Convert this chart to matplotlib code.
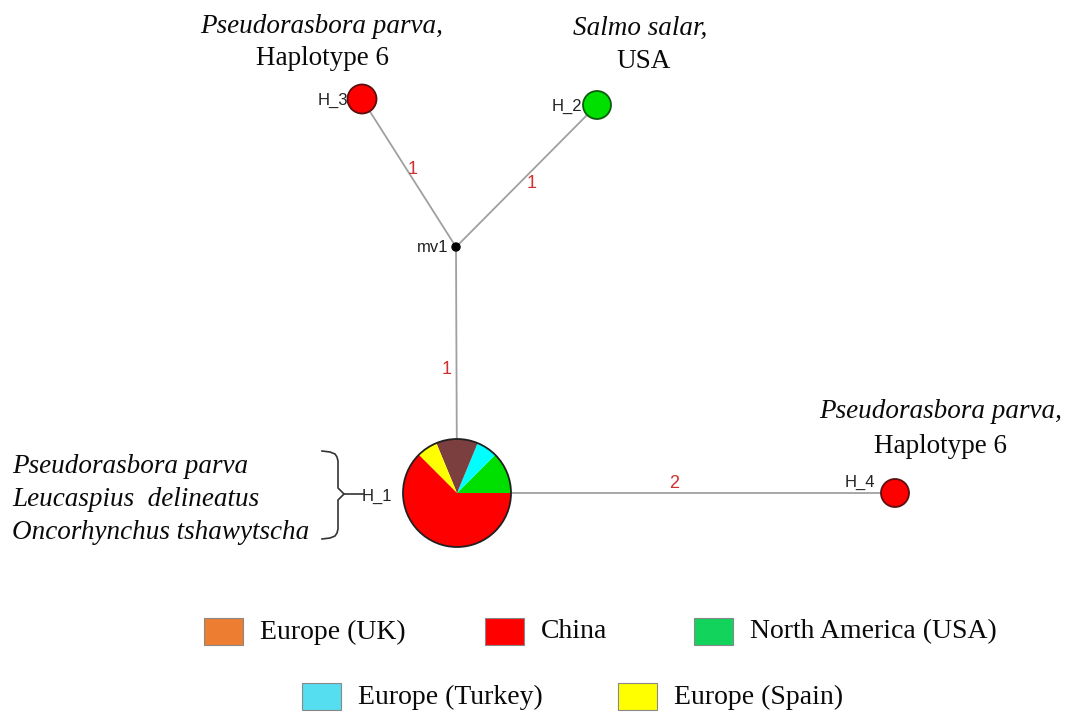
import matplotlib
matplotlib.use("Agg")
import matplotlib.pyplot as plt
from matplotlib.patches import Circle, Rectangle

# ---------------- data ----------------
regions = ["Europe (UK)", "China", "North America (USA)", "Europe (Turkey)", "Europe (Spain)"]
legend_colors = ["#ED7D31", "#FF0000", "#12D35C", "#55DDF0", "#FFFF00"]

# H_1 composition (counts per region), in drawing order (counter-clockwise from east)
h1_regions = ["North America (USA)", "Europe (Turkey)", "Europe (UK)", "Europe (Spain)", "China"]
h1_counts = [2, 1, 2, 1, 10]
h1_colors = ["#00E000", "#00FFFF", "#7B3F3F", "#FFFF00", "#FF0000"]

nodes = ["H_1", "H_2", "H_3", "H_4", "mv1"]
node_colors = {"H_2": "#00E000", "H_3": "#FF0000", "H_4": "#FF0000"}
edges = [("H_3", "mv1"), ("H_2", "mv1"), ("mv1", "H_1"), ("H_1", "H_4")]
mutations = [1, 1, 1, 2]

# ---------------- layout (pixel coordinates) ----------------
pos = {"H_1": (457, 493), "H_2": (597, 105), "H_3": (362, 99),
       "H_4": (895, 493), "mv1": (456, 247)}
radius = {"H_1": 54, "H_2": 14, "H_3": 14.5, "H_4": 14, "mv1": 4}
edge_label_pos = [(413, 170), (532, 183), (447, 370), (674, 484)]

W, H = 1071, 714
fig = plt.figure(figsize=(W / 100, H / 100), dpi=100)
ax = fig.add_axes([0, 0, 1, 1])
ax.set_axis_off()

# edges
for (a, b), m, lp in zip(edges, mutations, edge_label_pos):
    (x1, y1), (x2, y2) = pos[a], pos[b]
    ax.plot([x1, x2], [y1, y2], color="#A0A0A0", lw=1.3, zorder=1)
    ax.text(lp[0], lp[1], str(m), color="#D03030", fontsize=13,
            family="Liberation Sans", ha="center", va="center", zorder=3)

# H_1 pie (y axis inverted -> counterclock=False for visual CCW)
ax.pie(h1_counts, colors=h1_colors, center=pos["H_1"], radius=radius["H_1"],
       startangle=0, counterclock=False,
       wedgeprops=dict(linewidth=0, edgecolor="none"), frame=True)
ax.add_patch(Circle(pos["H_1"], radius["H_1"], facecolor="none",
                    edgecolor="#202020", lw=1.3, zorder=5))

# other nodes
for n in ["H_2", "H_3", "H_4"]:
    ax.add_patch(Circle(pos[n], radius[n], facecolor=node_colors[n],
                        edgecolor="#5a1010" if n != "H_2" else "#105a10", lw=1.3, zorder=4))
ax.add_patch(Circle(pos["mv1"], radius["mv1"], facecolor="black", edgecolor="black", zorder=4))

# node labels
lab_kw = dict(fontsize=12, family="Liberation Sans", color="#222222", zorder=6)
ax.text(348, 100, "H_3", ha="right", va="center", **lab_kw)
ax.text(582, 106, "H_2", ha="right", va="center", **lab_kw)
ax.text(448, 248, "mv1", ha="right", va="center", **lab_kw)
ax.text(362, 496, "H_1", ha="left", va="center", **lab_kw)
ax.text(860, 482, "H_4", ha="center", va="center", **lab_kw)

# species annotations
ser = dict(family="Liberation Serif", fontsize=19.5, color="#0a0a0a")
ax.text(322, 33, "Pseudorasbora parva,", style="italic", ha="center", va="baseline", **ser)
ax.text(322, 65, "Haplotype 6", ha="center", va="baseline", **ser)
ax.text(640, 35, "Salmo salar,", style="italic", ha="center", va="baseline", **ser)
ax.text(644, 68, "USA", ha="center", va="baseline", **ser)
ax.text(941, 418, "Pseudorasbora parva,", style="italic", ha="center", va="baseline", **ser)
ax.text(940, 453, "Haplotype 6", ha="center", va="baseline", **ser)
species_h1 = ["Pseudorasbora parva", "Leucaspius  delineatus", "Oncorhynchus tshawytscha"]
for i, s in enumerate(species_h1):
    ax.text(12, 473 + 33 * i, s, style="italic", ha="left", va="baseline", **ser)

# bracket
bx = [322, 330, 335, 337, 338, 338, 344, 338, 338, 337, 335, 330, 322]
by = [451, 452, 454, 457, 461, 488, 494, 500, 529, 533, 536, 538, 539]
ax.plot(bx, by, color="#333333", lw=1.2)
ax.plot([344, 363], [494, 494], color="#333333", lw=1.2)

# legend
leg_boxes = [(204, 618), (485, 618), (694, 618), (302, 683), (618, 683)]
for (x, y), name, c in zip(leg_boxes, regions, legend_colors):
    ax.add_patch(Rectangle((x, y), 39, 27, facecolor=c, edgecolor="#888888", lw=0.8))
    ax.text(x + 56, y + 14, name, ha="left", va="center",
            family="Liberation Serif", fontsize=20, color="#0a0a0a")

ax.set_xlim(0, W)
ax.set_ylim(H, 0)
ax.set_aspect("auto")
fig.savefig("out.png", dpi=100, facecolor="white")
